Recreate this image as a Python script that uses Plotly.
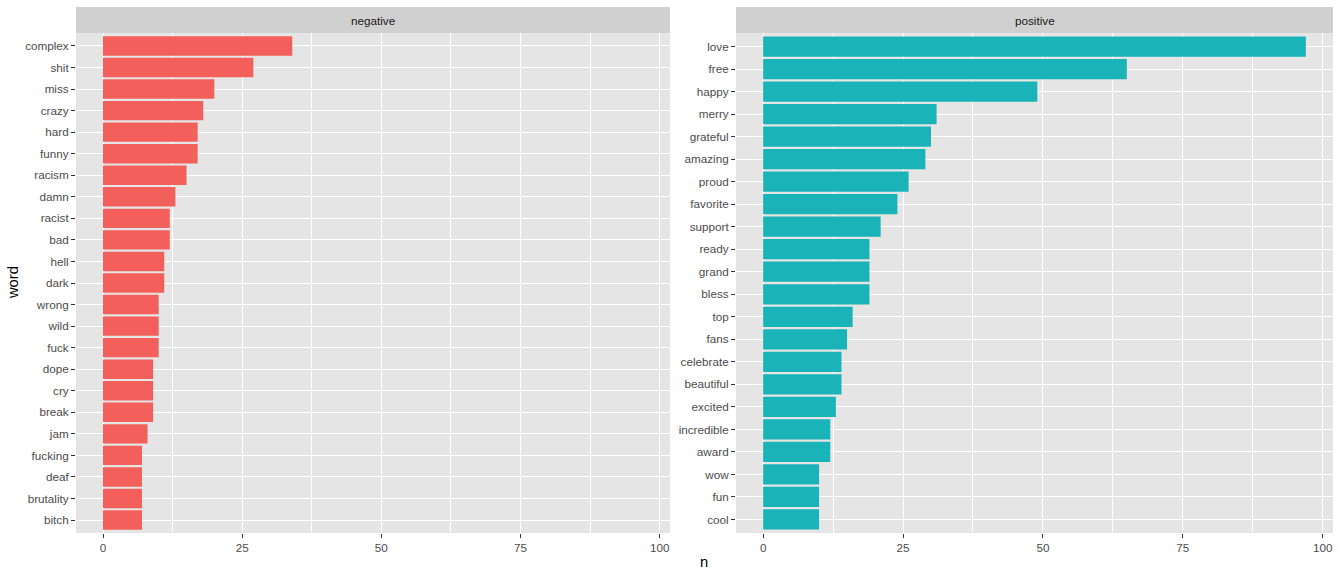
import plotly.graph_objects as go

neg_words = ["complex", "shit", "miss", "crazy", "hard", "funny", "racism", "damn", "racist", "bad",
             "hell", "dark", "wrong", "wild", "fuck", "dope", "cry", "break", "jam", "fucking",
             "deaf", "brutality", "bitch"]
neg_n = [34, 27, 20, 18, 17, 17, 15, 13, 12, 12, 11, 11, 10, 10, 10, 9, 9, 9, 8, 7, 7, 7, 7]

pos_words = ["love", "free", "happy", "merry", "grateful", "amazing", "proud", "favorite", "support",
             "ready", "grand", "bless", "top", "fans", "celebrate", "beautiful", "excited",
             "incredible", "award", "wow", "fun", "cool"]
pos_n = [97, 65, 49, 31, 30, 29, 26, 24, 21, 19, 19, 19, 16, 15, 14, 14, 13, 12, 12, 10, 10, 10]

facets = ["negative", "positive"]
x_ticks = [0, 25, 50, 75, 100]

W, H = 1340, 574
panel_bg = "#E5E5E5"
strip_bg = "#D0D0D0"
neg_col = "#F3605B"
pos_col = "#19B3B8"

fig = go.Figure()
fig.add_trace(go.Bar(x=neg_n, y=neg_words, orientation="h", marker=dict(color=neg_col, line=dict(width=0)),
                     xaxis="x", yaxis="y", showlegend=False))
fig.add_trace(go.Bar(x=pos_n, y=pos_words, orientation="h", marker=dict(color=pos_col, line=dict(width=0)),
                     xaxis="x2", yaxis="y2", showlegend=False))

px = lambda v: v / W
py = lambda v: 1 - v / H

left_dom = [px(76), px(670)]
right_dom = [px(736), px(1333)]
ydom = [py(533), py(33)]

xmax = max(max(neg_n), max(pos_n))
xr = [-0.05 * xmax, 1.05 * xmax]

tickfont = dict(family="Liberation Sans, Arial, sans-serif", size=11.7, color="#4D4D4D")

def xaxis(dom, anchor):
    return dict(domain=dom, anchor=anchor, range=xr, tickvals=x_ticks, ticktext=[str(t) for t in x_ticks],
                showgrid=True, gridcolor="white", gridwidth=1.4, zeroline=False,
                ticks="outside", ticklen=4, tickwidth=1.1, tickcolor="#333333", tickfont=tickfont,
                showline=False, fixedrange=True,
                minor=dict(tickvals=[12.5, 37.5, 62.5, 87.5], showgrid=True, gridcolor="white", gridwidth=0.7,
                           ticks=""))

def yaxis(dom, anchor, n):
    return dict(domain=dom, anchor=anchor, type="category", range=[n - 1 + 0.6, -0.6],
                showgrid=True, gridcolor="white", gridwidth=1.4, zeroline=False,
                ticks="outside", ticklen=4, tickwidth=1.1, tickcolor="#333333", tickfont=tickfont,
                showline=False, fixedrange=True)

fig.update_layout(
    width=W, height=H,
    margin=dict(l=0, r=0, t=0, b=0),
    paper_bgcolor="white", plot_bgcolor=panel_bg,
    bargap=0.1,
    xaxis=xaxis(left_dom, "y"),
    yaxis=yaxis(ydom, "x", len(neg_words)),
    xaxis2=xaxis(right_dom, "y2"),
    yaxis2=yaxis(ydom, "x2", len(pos_words)),
    font=dict(family="Liberation Sans, Arial, sans-serif"),
)

# strips
for dom, label in zip([left_dom, right_dom], facets):
    fig.add_shape(type="rect", xref="paper", yref="paper", x0=dom[0], x1=dom[1], y0=py(33), y1=py(7),
                  fillcolor=strip_bg, line=dict(width=0), layer="below")
    fig.add_annotation(xref="paper", yref="paper", x=(dom[0] + dom[1]) / 2, y=py(20), text=label,
                       showarrow=False, xanchor="center", yanchor="middle",
                       font=dict(family="Liberation Sans, Arial, sans-serif", size=11.7, color="#1A1A1A"))

# axis titles
fig.add_annotation(xref="paper", yref="paper", x=px(13), y=py(283), text="word", textangle=-90,
                   showarrow=False, xanchor="center", yanchor="middle",
                   font=dict(family="Liberation Sans, Arial, sans-serif", size=14.7, color="black"))
fig.add_annotation(xref="paper", yref="paper", x=px(704), y=py(562), text="n",
                   showarrow=False, xanchor="center", yanchor="middle",
                   font=dict(family="Liberation Sans, Arial, sans-serif", size=14.7, color="black"))

fig.write_html("out.html", config={"displayModeBar": False},
               post_script="document.body.style.margin='0';document.body.style.overflow='hidden';")
